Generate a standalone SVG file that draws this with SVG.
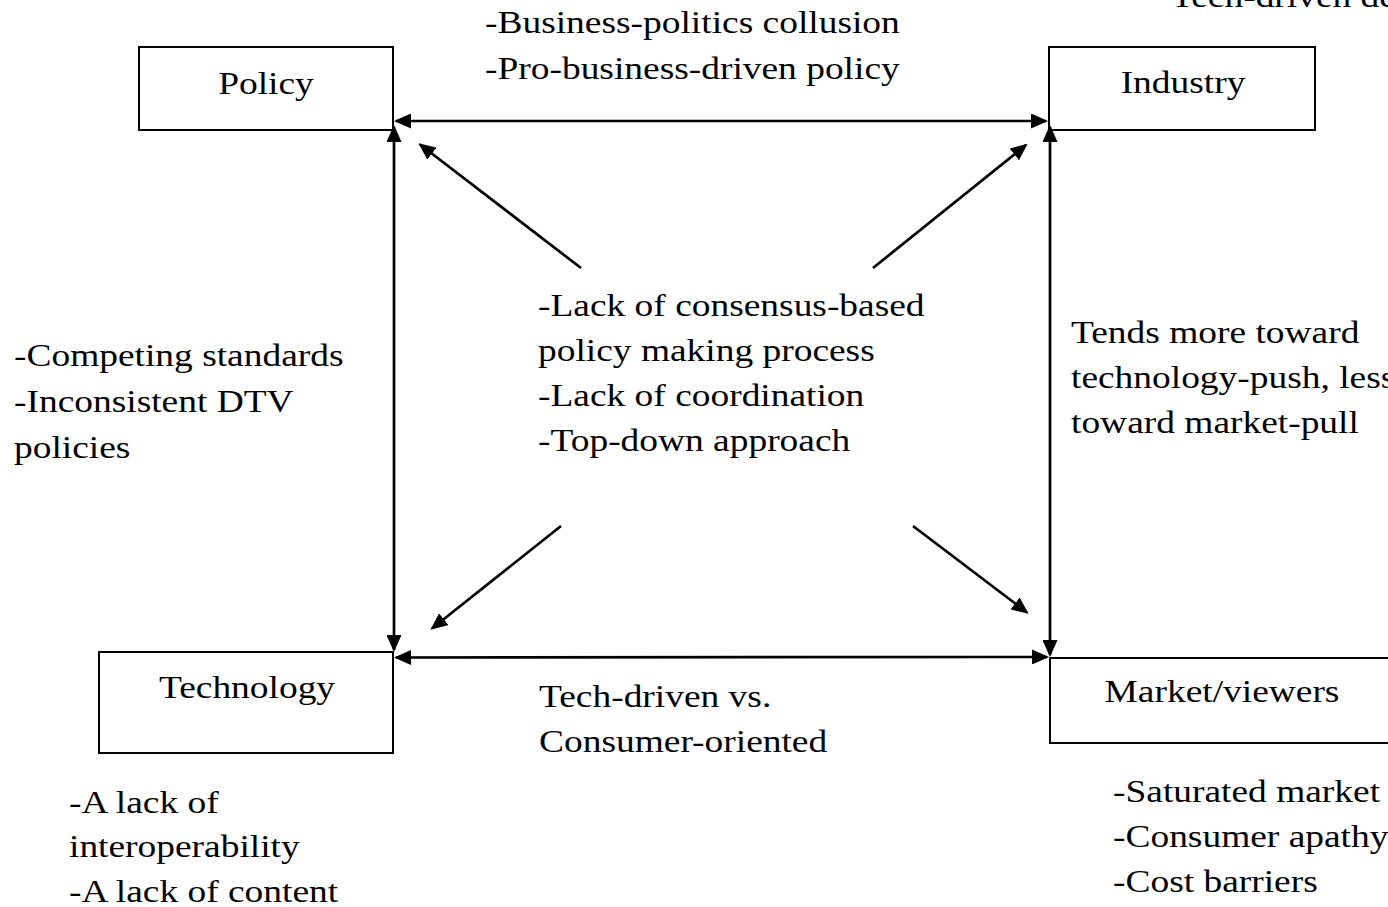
<svg xmlns="http://www.w3.org/2000/svg" width="1388" height="907" viewBox="0 0 1388 907">
  <style>
    .box { fill: #ffffff; stroke: #000000; stroke-width: 2; }
    .lbl { font-family: "Liberation Serif", "Times New Roman", serif; font-size: 32px; fill: #000000; }
    .mid { text-anchor: middle; }
    .link { stroke: #000000; stroke-width: 2.7; fill: none; }
    .both { marker-start: url(#head); marker-end: url(#head); }
    .one { marker-end: url(#head); }
  </style>
  <defs>
    <marker id="head" viewBox="0 0 17 15" refX="15" refY="7.5" markerWidth="17" markerHeight="15" markerUnits="userSpaceOnUse" orient="auto-start-reverse">
      <path d="M0,0 L17,7.5 L0,15 z" fill="#000000"/>
    </marker>
  </defs>

  <rect width="1388" height="907" fill="#ffffff"/>

  <!-- nodes -->
  <g id="policy">
    <rect class="box" x="139" y="47" width="254" height="83"/>
    <text class="lbl mid" transform="translate(266 94) scale(1.17 1)">Policy</text>
  </g>
  <g id="industry">
    <rect class="box" x="1049" y="47" width="266" height="83"/>
    <text class="lbl mid" transform="translate(1183 93) scale(1.17 1)">Industry</text>
  </g>
  <g id="technology">
    <rect class="box" x="99" y="652" width="294" height="101"/>
    <text class="lbl mid" transform="translate(247 698) scale(1.17 1)">Technology</text>
  </g>
  <g id="market">
    <rect class="box" x="1050" y="658" width="380" height="85"/>
    <text class="lbl mid" transform="translate(1222 702) scale(1.17 1)">Market/viewers</text>
  </g>

  <!-- connectors -->
  <g id="connectors">
    <line class="link both" x1="396" y1="121" x2="1046" y2="121"/>
    <line class="link both" x1="394" y1="127" x2="394" y2="650"/>
    <line class="link both" x1="1050" y1="127" x2="1050" y2="655"/>
    <line class="link both" x1="396" y1="657.5" x2="1047" y2="657"/>
    <line class="link one" x1="581" y1="268" x2="420" y2="144.5"/>
    <line class="link one" x1="873" y1="268" x2="1026" y2="145"/>
    <line class="link one" x1="561" y1="526" x2="432" y2="628.5"/>
    <line class="link one" x1="913" y1="526" x2="1027" y2="612.5"/>
  </g>

  <!-- annotations -->
  <g id="notes">
    <text class="lbl" transform="translate(1171 7) scale(1.17 1)">Tech-driven de</text>
    <text class="lbl" transform="translate(485 33) scale(1.17 1)">
      <tspan x="0" y="0">-Business-politics collusion</tspan>
      <tspan x="0" y="46">-Pro-business-driven policy</tspan>
    </text>
    <text class="lbl" transform="translate(538 316) scale(1.17 1)">
      <tspan x="0" y="0">-Lack of consensus-based</tspan>
      <tspan x="0" y="45">policy making process</tspan>
      <tspan x="0" y="90">-Lack of coordination</tspan>
      <tspan x="0" y="135">-Top-down approach</tspan>
    </text>
    <text class="lbl" transform="translate(14 366) scale(1.17 1)">
      <tspan x="0" y="0">-Competing standards</tspan>
      <tspan x="0" y="46">-Inconsistent DTV</tspan>
      <tspan x="0" y="92">policies</tspan>
    </text>
    <text class="lbl" transform="translate(1071 343) scale(1.17 1)">
      <tspan x="0" y="0">Tends more toward</tspan>
      <tspan x="0" y="45">technology-push, less</tspan>
      <tspan x="0" y="90">toward market-pull</tspan>
    </text>
    <text class="lbl" transform="translate(539 707) scale(1.17 1)">
      <tspan x="0" y="0">Tech-driven vs.</tspan>
      <tspan x="0" y="45">Consumer-oriented</tspan>
    </text>
    <text class="lbl" transform="translate(69 813) scale(1.17 1)">
      <tspan x="0" y="0">-A lack of</tspan>
      <tspan x="0" y="44.5">interoperability</tspan>
      <tspan x="0" y="89">-A lack of content</tspan>
    </text>
    <text class="lbl" transform="translate(1113 802) scale(1.17 1)">
      <tspan x="0" y="0">-Saturated market</tspan>
      <tspan x="0" y="45">-Consumer apathy</tspan>
      <tspan x="0" y="90">-Cost barriers</tspan>
    </text>
  </g>
</svg>
